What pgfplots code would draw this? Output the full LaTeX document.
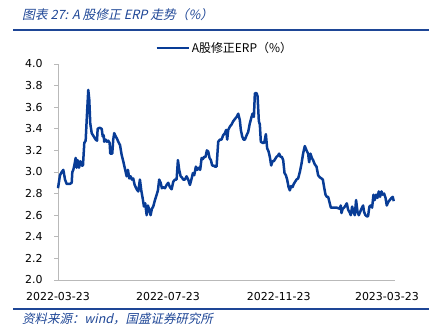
\documentclass[border=0pt]{standalone}
\usepackage{pgfplots}
\pgfplotsset{compat=1.18}
\usepackage{fontspec}
\setmainfont{DejaVu Sans}
\newfontfamily\cjk{Noto Sans CJK SC}
\newfontfamily\cjkit[FakeSlant=0.22]{Noto Sans CJK SC}
\definecolor{lineblue}{RGB}{8,60,150}
\definecolor{titleblue}{RGB}{30,70,150}
\definecolor{axisgray}{RGB}{185,185,185}
\begin{document}
\begin{tikzpicture}[x=1bp,y=1bp]
\path[use as bounding box] (0,0) rectangle (429,335);
\node[anchor=west, text=titleblue, font=\cjkit\fontsize{12.8}{14}\selectfont, inner sep=0] at (22,320) {图表 27:  A 股修正 ERP 走势（\%）};
\draw[titleblue, line width=1.2bp] (13,305) -- (429,305);
\draw[titleblue, line width=1.2bp] (13,26) -- (429,26);
\node[anchor=west, text=titleblue, font=\cjkit\fontsize{12.5}{14}\selectfont, inner sep=0] at (22,16.5) {资料来源：wind，国盛证券研究所};
\begin{axis}[
  at={(58bp,55bp)}, anchor=south west, scale only axis,
  width=337bp, height=216bp,
  xmin=0, xmax=374, ymin=2, ymax=4,
  axis x line*=bottom, axis y line*=left,
  axis line style={axisgray, line width=0.8bp, -},
  ytick={2,2.2,2.4,2.6,2.8,3,3.2,3.4,3.6,3.8,4},
  xtick={0,122,245,365},
  xticklabels={2022-03-23,2022-07-23,2022-11-23,2023-03-23},
  tick align=outside, major tick length=4bp,
  ytick style={axisgray, line width=0.8bp},
  xtick style={draw=none},
  tick label style={font=\fontsize{11}{13}\selectfont, text=black},
  /pgf/number format/assume math mode=true,
  /pgf/number format/fixed, /pgf/number format/fixed zerofill, /pgf/number format/precision=1,
  xticklabel style={yshift=-5bp},
  yticklabel style={xshift=-8bp},
  legend style={font=\cjk\fontsize{12}{14}\selectfont, draw=none, fill=none,
    at={(0.495,1)}, anchor=south, yshift=6bp},
  legend image code/.code={\draw[#1, line width=2.2bp] (0,0) -- (32bp,0);},
  clip=false,
]
\addplot[lineblue, line width=2.5bp, line join=round] coordinates {
(0,2.85) (2.2,2.97) (4.1,3.00) (5.9,3.02) (7.8,2.93) (9.6,2.89) (13.3,2.89) (15.2,2.90)
(15.9,3.00) (17.0,3.02) (18.1,3.06) (19.6,3.13) (20.7,3.04) (21.8,3.11) (23.3,3.04)
(24.7,3.10) (26.3,3.06) (27.7,3.06) (29.2,3.27) (30.7,3.29) (32.2,3.54) (33.6,3.76)
(34.7,3.67) (35.8,3.45) (37.4,3.36) (39.6,3.33) (41.8,3.30) (43.3,3.29) (44.0,3.40)
(46.2,3.41) (48.5,3.40) (49.6,3.33) (50.7,3.34) (51.3,3.28) (52.9,3.30) (54.3,3.28)
(55.8,3.29) (57.3,3.27) (58.0,3.17) (60.2,3.17) (61.3,3.30) (62.4,3.36) (64.0,3.33)
(65.4,3.31) (66.9,3.28) (68.8,3.25) (70.6,3.16) (72.4,3.10) (74.3,3.03) (76.2,2.96)
(77.6,3.02) (79.1,2.94) (80.6,2.96) (82.1,2.93) (83.5,2.94) (85.1,2.88) (87.3,2.84)
(89.1,2.82) (90.9,2.93) (92.4,2.83) (93.9,2.76) (95.4,2.68) (96.8,2.71) (98.4,2.60)
(99.8,2.69) (101.3,2.65) (102.8,2.60) (104.2,2.66) (105.7,2.68) (107.6,2.74) (109.5,2.79)
(110.9,2.83) (112.3,2.93) (113.9,2.90) (115.3,2.85) (116.8,2.86) (118.7,2.85) (120.5,2.88)
(122.3,2.90) (124.2,2.86) (126.1,2.84) (127.9,2.91) (129.8,2.93) (131.6,2.93) (133.1,3.11)
(134.5,3.02) (136.1,2.96) (137.5,2.95) (139.0,2.93) (140.8,2.93) (142.7,2.96) (144.5,2.93)
(146.4,2.88) (148.3,2.94) (149.7,2.99) (151.2,2.97) (153.0,3.05) (154.5,3.02) (156.4,3.04)
(157.8,3.02) (159.4,3.13) (160.8,3.12) (162.2,3.14) (163.8,3.14) (165.2,3.20) (166.7,3.19)
(168.2,3.13) (169.7,3.11) (171.1,3.06) (172.7,3.06) (174.1,3.05) (176.0,3.05) (177.8,3.28)
(179.7,3.30) (181.5,3.30) (183.3,3.34) (185.2,3.36) (186.6,3.39) (187.8,3.30) (188.9,3.39)
(190.7,3.42) (192.6,3.44) (194.4,3.47) (196.3,3.49) (198.2,3.51) (200.0,3.54) (201.8,3.48)
(202.9,3.39) (204.4,3.33) (205.9,3.30) (207.4,3.30) (209.3,3.34) (211.0,3.37) (212.9,3.45)
(214.8,3.51) (215.9,3.54) (217.4,3.51) (218.5,3.73) (220.4,3.73) (221.5,3.70) (222.9,3.47)
(224.0,3.44) (225.1,3.28) (227.0,3.27) (228.8,3.27) (230.7,3.35) (232.1,3.22) (233.7,3.19)
(235.1,3.14) (236.6,3.06) (238.1,3.10) (239.5,3.10) (241.0,3.12) (242.5,3.14) (244.0,3.15)
(245.4,3.17) (247.0,3.14) (248.4,3.14) (249.9,3.11) (251.4,2.99) (252.9,2.97) (254.3,2.93)
(255.9,2.86) (257.3,2.83) (258.7,2.87) (260.3,2.86) (261.7,2.89) (263.2,2.91) (264.7,2.93)
(266.5,2.94) (268.4,3.00) (270.3,3.08) (272.0,3.17) (273.9,3.24) (275.8,3.20) (277.6,3.17)
(278.7,3.09) (280.2,3.17) (281.7,3.13) (283.1,3.11) (285.0,3.07) (286.9,3.05) (288.7,2.97)
(290.6,2.95) (292.4,2.94) (293.9,2.93) (295.3,2.86) (296.9,2.79) (298.3,2.77) (299.8,2.77)
(301.3,2.72) (302.8,2.67) (305.3,2.67) (309.1,2.67) (312.7,2.66) (313.8,2.69) (314.6,2.62)
(316.0,2.66) (317.5,2.67) (319.1,2.69) (320.5,2.71) (322.0,2.65) (323.5,2.63) (324.9,2.60)
(326.4,2.68) (327.9,2.63) (329.4,2.60) (330.8,2.74) (332.4,2.63) (333.8,2.60) (335.3,2.63)
(336.8,2.66) (338.6,2.69) (339.7,2.63) (341.2,2.60) (342.7,2.59) (344.1,2.59) (345.6,2.68)
(347.0,2.69) (348.6,2.67) (350.1,2.79) (351.5,2.74) (353.0,2.79) (354.5,2.76) (356.0,2.82)
(357.4,2.77) (359.0,2.82) (360.4,2.79) (361.9,2.80) (363.5,2.76) (364.9,2.69) (366.3,2.72)
(368.2,2.74) (370.1,2.76) (371.5,2.77) (372.6,2.73)
};
\addlegendentry{A股修正ERP（\%）}
\end{axis}
\end{tikzpicture}
\end{document}
